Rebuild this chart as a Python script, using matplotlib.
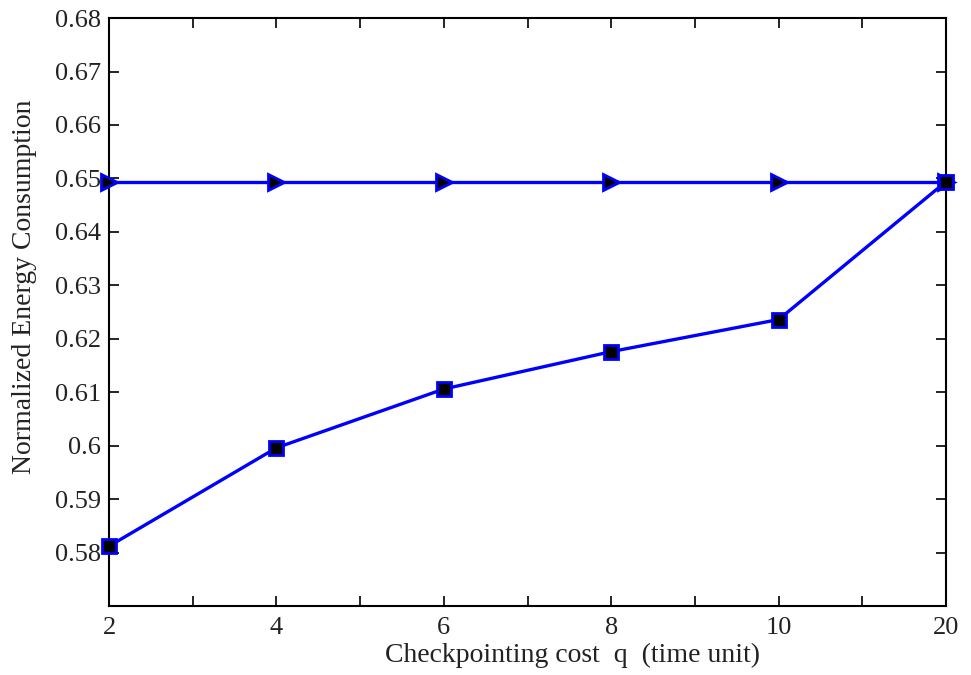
import numpy as np
import matplotlib
matplotlib.use('Agg')
from matplotlib import pyplot as plt

# checkpointing cost q (tick labels) and normalized energy
q_labels = ['2', '4', '6', '8', '10', '20']
energy_tri = [0.6494, 0.6494, 0.6494, 0.6494, 0.6494, 0.6494]
energy_sq = [0.5812, 0.5996, 0.6106, 0.6176, 0.6236, 0.6494]
y_ticks = [0.58, 0.59, 0.60, 0.61, 0.62, 0.63, 0.64, 0.65, 0.66, 0.67, 0.68]
y_tick_labels = ['0.58', '0.59', '0.6', '0.61', '0.62', '0.63', '0.64', '0.65', '0.66', '0.67', '0.68']

plt.rcParams['font.family'] = ['Liberation Serif', 'DejaVu Serif']

fig = plt.figure(figsize=(9.71, 6.75), dpi=100)
ax = fig.add_axes([0.1123, 0.1022, 0.862, 0.871])

x = np.arange(len(q_labels))
ax.plot(x, energy_tri, color='blue', lw=2.4, marker='>', ms=11,
        mfc='black', mec='blue', mew=2, clip_on=False, zorder=3)
ax.plot(x, energy_sq, color='blue', lw=2.4, marker='s', ms=10.5,
        mfc='black', mec='blue', mew=2, clip_on=False, zorder=4)

ax.set_xlim(0, len(q_labels) - 1)
ax.set_ylim(0.57, 0.68)
ax.set_xticks(x)
ax.set_xticklabels(q_labels)
ax.set_xticks(np.arange(0.5, len(q_labels) - 1, 1.0), minor=True)
ax.set_yticks(y_ticks)
ax.set_yticklabels(y_tick_labels)

ax.tick_params(which='both', direction='in', top=True, right=True,
               length=7, width=1.2, labelsize=19, labelcolor='#222222')
ax.tick_params(axis='x', pad=8)
ax.tick_params(axis='y', pad=6)
for s in ax.spines.values():
    s.set_linewidth(1.5)

ax.set_xlabel('Checkpointing cost  q  (time unit)', fontsize=20, color='#222222')
ax.set_ylabel('Normalized Energy Consumption', fontsize=20, color='#222222')
ax.xaxis.set_label_coords(0.554, -0.062)
ax.yaxis.set_label_coords(-0.086, 0.5425)

fig.savefig('out.png', dpi=100)
